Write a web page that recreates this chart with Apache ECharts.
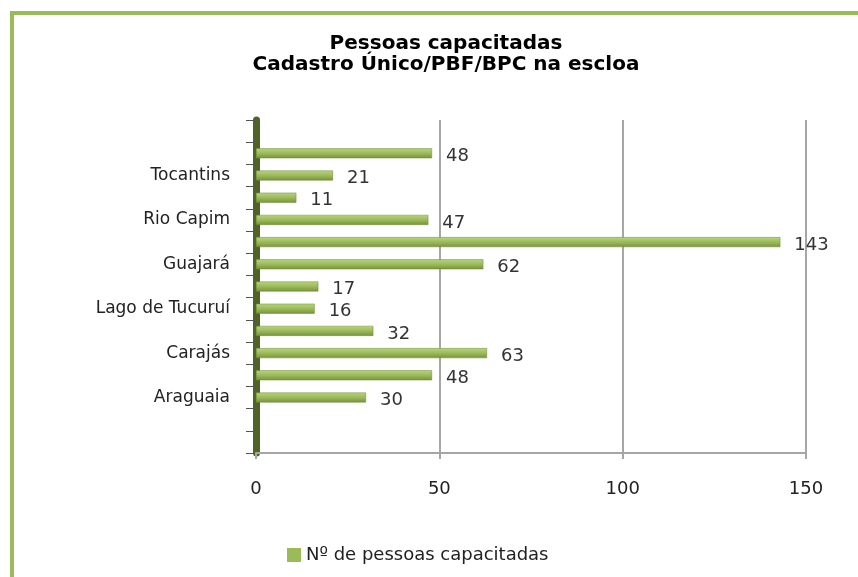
<!DOCTYPE html>
<html lang="pt">
<head>
    <meta charset="UTF-8">
    <title>Pessoas capacitadas</title>
    <script src="https://cdn.jsdelivr.net/npm/echarts@6/dist/echarts.min.js"></script>
    <style>
        html, body { margin: 0; padding: 0; background: #fff; }
        #chart { width: 858px; height: 577px; }
    </style>
</head>
<body>
<div id="chart"></div>
<script type="text/javascript">
    // categorias de baixo para cima (rótulo só em uma a cada duas barras)
    var categorias = ['', '', 'Araguaia', '', 'Carajás', '', 'Lago de Tucuruí', '', 'Guajará', '', 'Rio Capim', '', 'Tocantins', '', ''];
    var pessoas = [null, null, 30, 48, 63, 32, 16, 17, 62, 143, 47, 11, 21, 48, null];
    var ticksX = [0, 50, 100, 150];
    var nomeSerie = 'Nº de pessoas capacitadas';

    var fonte = 'DejaVu Sans, Verdana, sans-serif';
    var chart = echarts.init(document.getElementById('chart'));

    chart.setOption({
        animation: false,
        title: {
            text: 'Pessoas capacitadas\nCadastro Único/PBF/BPC na escloa',
            left: 441,
            top: 28,
            textAlign: 'center',
            textStyle: {
                fontFamily: fonte,
                fontSize: 20,
                fontWeight: 'bold',
                lineHeight: 21,
                color: '#000'
            }
        },
        graphic: [{
            // moldura verde do gráfico (cortada à direita e em baixo)
            type: 'rect',
            shape: { x: 12, y: 13, width: 900, height: 700 },
            style: { fill: 'none', stroke: '#9bbb59', lineWidth: 4 },
            silent: true
        }],
        legend: {
            data: [nomeSerie],
            left: 282,
            top: 541,
            icon: 'rect',
            itemWidth: 14,
            itemHeight: 14,
            itemGap: 5,
            itemStyle: { color: '#9bbb59', borderWidth: 0 },
            textStyle: { fontFamily: fonte, fontSize: 18, color: '#222' }
        },
        grid: {
            left: 256,
            right: 52,
            top: 120,
            bottom: 124,
            containLabel: false
        },
        xAxis: {
            type: 'value',
            min: ticksX[0],
            max: ticksX[ticksX.length - 1],
            interval: ticksX[1] - ticksX[0],
            axisLine: { show: true, lineStyle: { color: '#a6a6a6', width: 2 } },
            axisTick: { show: true, length: 6, lineStyle: { color: '#a6a6a6', width: 2 } },
            axisLabel: { margin: 27, fontFamily: fonte, fontSize: 18, color: '#222' },
            splitLine: { show: true, lineStyle: { color: '#a6a6a6', width: 2 } }
        },
        yAxis: {
            type: 'category',
            data: categorias,
            axisLine: { show: true, lineStyle: { color: '#4f6228', width: 7 } },
            axisTick: { show: true, length: 10, interval: 0, lineStyle: { color: '#555', width: 1 } },
            axisLabel: { interval: 0, margin: 26, fontFamily: fonte, fontSize: 17, color: '#222' }
        },
        series: [{
            name: nomeSerie,
            type: 'bar',
            data: pessoas,
            barWidth: 10,
            itemStyle: {
                color: new echarts.graphic.LinearGradient(0, 0, 0, 1, [
                    { offset: 0, color: '#b9d47f' },
                    { offset: 0.5, color: '#9bbb59' },
                    { offset: 1, color: '#76923c' }
                ]),
                borderColor: '#6f8a37',
                borderWidth: 0.5
            },
            label: {
                show: true,
                position: 'right',
                distance: 14,
                offset: [0, 3],
                fontFamily: fonte,
                fontSize: 18,
                color: '#333'
            }
        }]
    });
</script>
</body>
</html>
